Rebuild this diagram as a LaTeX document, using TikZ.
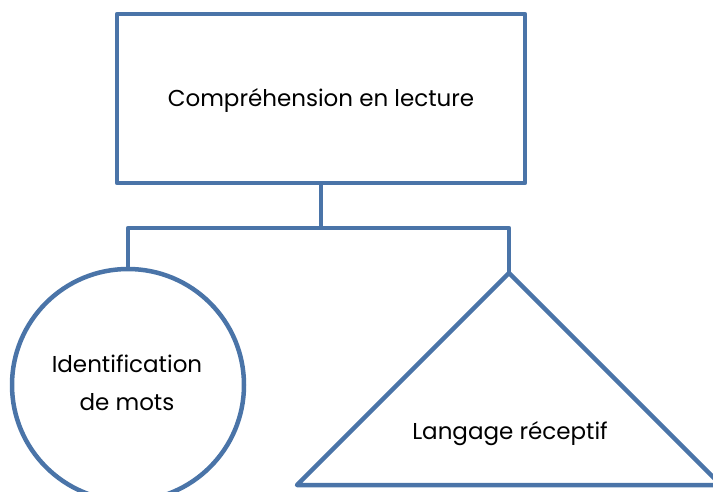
\documentclass[tikz,border=0pt]{standalone}
\usepackage{fontspec}
\setmainfont{Poppins}
\usepackage{tikz}
\usetikzlibrary{shapes,arrows}
\usetikzlibrary{calc}
\usetikzlibrary{positioning}
\definecolor{frameblue}{RGB}{74,116,168}
\tikzstyle{topbox} = [draw=frameblue, line width=4.5pt, rectangle,
    minimum width=408pt, minimum height=169pt, inner sep=0pt]
\tikzstyle{roundbox} = [draw=frameblue, line width=4.5pt, circle,
    minimum size=232pt, inner sep=0pt, align=center]
\tikzstyle{label} = [inner sep=0pt, align=center]
\tikzstyle{link} = [draw=frameblue, line width=4.5pt, line join=round]

\begin{document}
\begin{tikzpicture}[x=1pt, y=-1pt, line join=round,
    every node/.style={font=\fontsize{23}{38}\selectfont}]
    \useasboundingbox (0,0) rectangle (713,491);
    \clip (0,0) rectangle (713,491);
    \node [topbox] at (321,98.5) (comp) {};
    \node [label] at (321,100) (comptext) {Compréhension en lecture};
    \node [roundbox] at (128,385) (ident) {};
    \node [label] at (127,383) (identtext) {Identification\\de mots};
    \coordinate (langtop) at (509,273);
    \coordinate (langleft) at (297,485);
    \coordinate (langright) at (721,485);
    \node [label] at (510,434) (langtext) {Langage réceptif};
    \coordinate (forkleft) at (128,228);
    \coordinate (forkright) at (509,228);
    \draw [link] (langtop) -- (langleft) -- (langright) -- cycle;
    \draw [link] (comp.south) -- (comp.south |- forkleft);
    \draw [link] (ident.north) -- (forkleft) -- (forkright) -- (langtop);
\end{tikzpicture}
\end{document}
